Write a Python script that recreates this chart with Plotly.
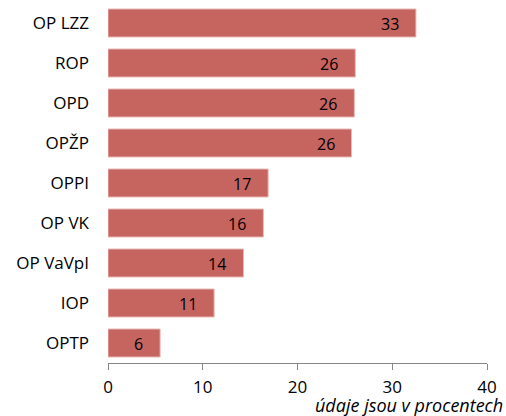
import plotly.graph_objects as go

categories = ["OP LZZ", "ROP", "OPD", "OPŽP", "OPPI", "OP VK", "OP VaVpI", "IOP", "OPTP"]
values = [32.5, 26.1, 26.0, 25.7, 16.9, 16.4, 14.3, 11.2, 5.5]
value_labels = ["33", "26", "26", "26", "17", "16", "14", "11", "6"]
x_ticks = [0, 10, 20, 30, 40]
note = "údaje jsou v procentech"

FONT = "Open Sans"
BAR = "#C6645F"

fig = go.Figure()
fig.add_trace(go.Bar(
    x=values, y=categories, orientation="h",
    marker=dict(color=BAR, line=dict(color="#E8B8B6", width=1)),
    hoverinfo="skip",
))

for v, c, t in zip(values, categories, value_labels):
    fig.add_annotation(x=v, y=c, xref="x", yref="y", text=t, showarrow=False,
                       xanchor="right", xshift=-15, yshift=-1,
                       font=dict(family=FONT, size=16, color="black"))

fig.add_annotation(x=1, y=0, xref="paper", yref="paper", text="<i>" + note + "</i>",
                   showarrow=False, xanchor="right", yanchor="middle", xshift=17, yshift=-42,
                   borderpad=0,
                   font=dict(family=FONT, size=18, color="black"))

fig.update_layout(
    width=506, height=416,
    margin=dict(l=108, r=19, t=3, b=53),
    paper_bgcolor="white", plot_bgcolor="white",
    bargap=0.3, showlegend=False,
    font=dict(family=FONT, size=16, color="black"),
)
fig.update_xaxes(range=[0, 40], tickvals=x_ticks, ticktext=[str(t) for t in x_ticks],
                 showgrid=False, zeroline=False, showline=True, linecolor="#868686", linewidth=1,
                 ticks="outside", ticklen=6, tickcolor="#868686", tickwidth=1,
                 ticklabelstandoff=3,
                 tickfont=dict(family=FONT, size=17, color="black"), fixedrange=True,
                 automargin=False)
fig.update_yaxes(categoryorder="array", categoryarray=categories, autorange="reversed",
                 showgrid=False, zeroline=False, showline=False, ticks="",
                 ticklabelstandoff=18, automargin=False,
                 tickfont=dict(family=FONT, size=17, color="black"), fixedrange=True)

fig.write_html("out.html", config={"displayModeBar": False},
               post_script="document.body.style.margin='0';document.body.style.overflow='hidden';")
